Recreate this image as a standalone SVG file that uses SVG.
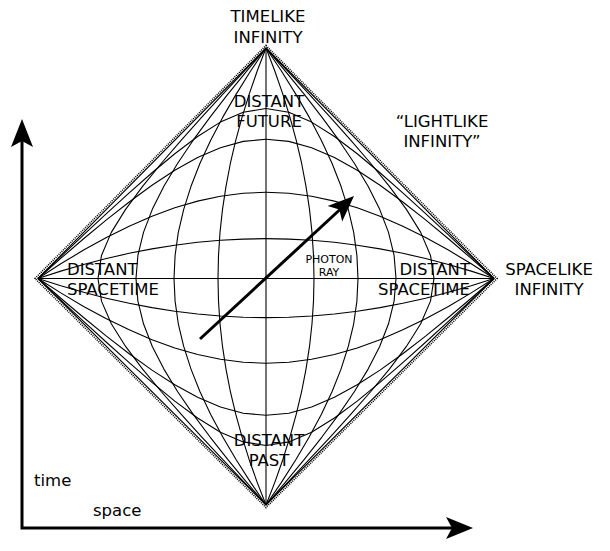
<svg xmlns="http://www.w3.org/2000/svg" xmlns:xlink="http://www.w3.org/1999/xlink" width="610" height="551" viewBox="0 0 610 551">
<style>
.c{fill:none;stroke:#000;stroke-width:1.1;stroke-linejoin:round}
.e{fill:none;stroke:#000;stroke-width:1.1}
.dot{fill:none;stroke:#000;stroke-width:1.6;stroke-dasharray:1 1.1}
.t{font-family:"DejaVu Sans","Liberation Sans",sans-serif;font-size:16.5px;fill:#000}
.m{text-anchor:middle}
.s{font-family:"DejaVu Sans","Liberation Sans",sans-serif;font-size:11px;fill:#000;text-anchor:middle}
.ax{fill:none;stroke:#000;stroke-width:3}
</style>
<defs>
<g id="q">
<path class="c" d="M0,-39.4 L22.8,-39 45.6,-37.8 68.4,-35.8 91.2,-32.9 114,-29.3 136.8,-24.9 159.6,-19.8 182.4,-13.9 205.2,-7.3 228,0"/>
<path class="c" d="M0,-85.3 L22.8,-84.3 45.6,-81.3 68.4,-76.5 91.2,-69.9 114,-61.6 136.8,-51.7 159.6,-40.5 182.4,-28.1 205.2,-14.5 228,0"/>
<path class="c" d="M0,-137.7 L22.8,-135.6 45.6,-129.3 68.4,-119.6 91.2,-107 114,-92.2 136.8,-75.7 159.6,-58 182.4,-39.3 205.2,-19.9 228,0"/>
<path class="c" d="M0,-168.1 L22.8,-164.5 45.6,-154.7 68.4,-140.4 91.2,-123.4 114,-104.6 136.8,-84.7 159.6,-64.2 182.4,-43.1 205.2,-21.7 228,0"/>
<path class="c" d="M48,0 L47.5,-22.8 46,-45.6 43.5,-68.4 40,-91.2 35.6,-114 30.2,-136.8 23.9,-159.6 16.8,-182.4 8.8,-205.2 0,-228"/>
<path class="c" d="M92,0 L90.9,-22.8 87.7,-45.6 82.3,-68.4 75,-91.2 66,-114 55.3,-136.8 43.2,-159.6 29.8,-182.4 15.4,-205.2 0,-228"/>
<path class="c" d="M130,0 L128.1,-22.8 122.5,-45.6 113.7,-68.4 102.1,-91.2 88.3,-114 72.8,-136.8 55.9,-159.6 38.1,-182.4 19.3,-205.2 0,-228"/>
<path class="c" d="M168,0 L164.5,-22.8 154.7,-45.6 140.4,-68.4 123.4,-91.2 104.6,-114 84.7,-136.8 64.2,-159.6 43.1,-182.4 21.7,-205.2 0,-228"/>
</g>
</defs>
<g id="grid">
<use xlink:href="#q" transform="translate(266,278.5) scale(1,1.011)"/>
<use xlink:href="#q" transform="translate(266,278.5) scale(-1,1.011)"/>
<use xlink:href="#q" transform="translate(266,278.5) scale(1,-0.9934)"/>
<use xlink:href="#q" transform="translate(266,278.5) scale(-1,-0.9934)"/>
<polygon class="e" points="266,48 494,278.5 266,505 38,278.5"/>
<polygon class="dot" points="266,45.5 497,278.5 266,507.5 35,278.5"/>
<line class="e" x1="38" y1="278.5" x2="494" y2="278.5"/>
<line class="e" x1="266" y1="48" x2="266" y2="505"/>
</g>
<g id="connectors">
<path class="ax" d="M22,141 V528 H452"/>
<polygon points="22,119 33,147 22,141 11,147" fill="#000"/>
<polygon points="473,528 446,539 452,528 446,517" fill="#000"/>
<line x1="200" y1="339" x2="340" y2="209.5" stroke="#000" stroke-width="3"/>
<polygon points="354,196 342.2,221.5 339.3,209.6 327.6,205.9" fill="#000"/>
</g>
<g id="timelike-infinity"><text class="t m" x="268" y="22">TIMELIKE</text><text class="t m" x="268" y="43">INFINITY</text></g>
<g id="distant-future"><text class="t m" x="269" y="107">DISTANT</text><text class="t m" x="269" y="127">FUTURE</text></g>
<g id="lightlike-infinity"><text class="t m" x="442" y="127">“LIGHTLIKE</text><text class="t m" x="442" y="147">INFINITY”</text></g>
<g id="distant-spacetime-left"><text class="t" x="67" y="275">DISTANT</text><text class="t" x="67" y="295">SPACETIME</text></g>
<g id="distant-spacetime-right"><text class="t" x="470" y="275" text-anchor="end">DISTANT</text><text class="t" x="470" y="295" text-anchor="end">SPACETIME</text></g>
<g id="spacelike-infinity"><text class="t m" x="549" y="275">SPACELIKE</text><text class="t m" x="549" y="295">INFINITY</text></g>
<g id="photon-ray"><text class="s" x="329" y="263">PHOTON</text><text class="s" x="329" y="276">RAY</text></g>
<g id="distant-past"><text class="t m" x="269" y="446">DISTANT</text><text class="t m" x="269" y="466">PAST</text></g>
<g id="time-label"><text class="t" x="34" y="486">time</text></g>
<g id="space-label"><text class="t" x="93" y="516">space</text></g>
</svg>
